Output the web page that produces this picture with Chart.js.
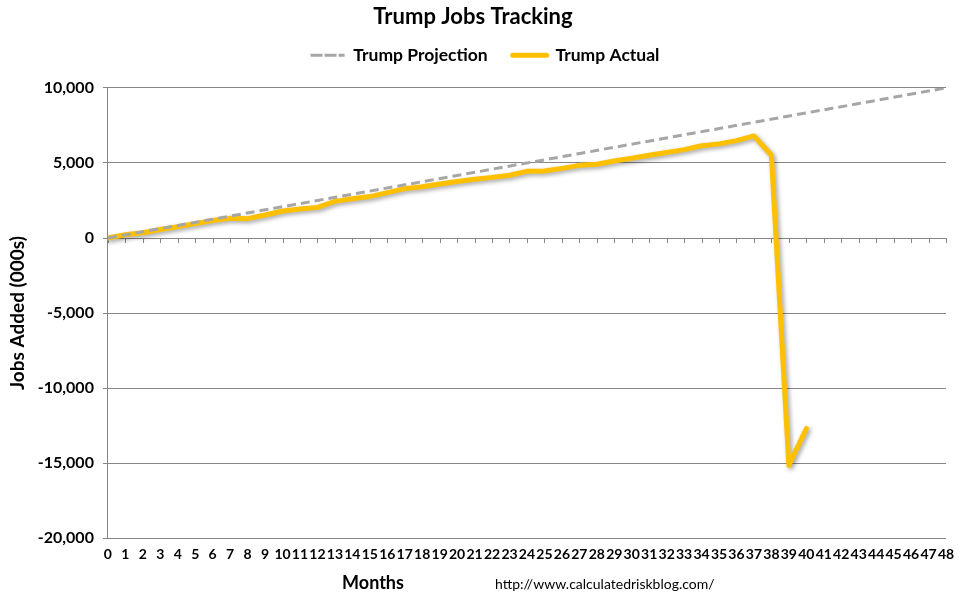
<!DOCTYPE html>
<html>
<head>
<meta charset="utf-8">
<script src="https://cdn.jsdelivr.net/npm/chart.js@4.4.1/dist/chart.umd.min.js"></script>
<style>
  html, body { margin: 0; padding: 0; background: #fff; }
  #wrap { width: 961px; height: 600px; }
</style>
</head>
<body>
<div id="wrap"><canvas id="chart"></canvas></div>
<script>
// months 0..40 of actual jobs added (000s)
const actualMonths = [0, 1, 2, 3, 4, 5, 6, 7, 8, 9, 10, 11, 12, 13, 14, 15, 16, 17, 18, 19, 20,
                      21, 22, 23, 24, 25, 26, 27, 28, 29, 30, 31, 32, 33, 34, 35, 36, 37, 38, 39, 40];
const actualValues = [0, 220, 350, 570, 760, 960, 1160, 1310, 1290, 1530, 1800, 1930, 2040, 2440,
                      2620, 2760, 3020, 3290, 3420, 3600, 3760, 3910, 4040, 4180, 4440, 4460, 4640,
                      4840, 4910, 5130, 5310, 5510, 5690, 5890, 6150, 6270, 6490, 6800, 5510,
                      -15150, -12690];
// projection: straight line from 0 to 10,000 over 48 months
const projMonths = [0, 48];
const projValues = [0, 10000];

const yTicks = [-20000, -15000, -10000, -5000, 0, 5000, 10000];

const FONT = 'Lato, "Open Sans", sans-serif';
const gridColor = '#868686';

const toPoints = (xs, ys) => xs.map((x, i) => ({ x, y: ys[i] }));

// Excel-like drop shadow under the actual series
const shadowPlugin = {
  id: 'shadow',
  beforeDatasetDraw(chart, args) {
    if (args.index !== 1) return;
    const ctx = chart.ctx;
    ctx.save();
    ctx.shadowColor = 'rgba(0,0,0,0.35)';
    ctx.shadowBlur = 4;
    ctx.shadowOffsetX = 2;
    ctx.shadowOffsetY = 2;
  },
  afterDatasetDraw(chart, args) {
    if (args.index !== 1) return;
    chart.ctx.restore();
  },
};

// extra room under the legend so the plot starts lower,
// and centre the legend on the page rather than on the padded area
const legendSpacer = {
  id: 'legendSpacer',
  afterInit(chart) {
    const fit = chart.legend.fit;
    chart.legend.fit = function () { fit.call(this); this.height += 14; };
  },
  afterLayout(chart) {
    chart.legend.left += 12;
    chart.legend.right += 12;
  },
};

// x axis crosses at 0: draw its line and tick marks there, plus footer texts
const extrasPlugin = {
  id: 'extras',
  beforeDatasetsDraw(chart) {
    const { ctx, scales: { x, y } } = chart;
    const y0 = y.getPixelForValue(0);
    ctx.save();
    ctx.strokeStyle = gridColor;
    ctx.lineWidth = 1;
    ctx.beginPath();
    ctx.moveTo(x.left, y0 + 0.5);
    ctx.lineTo(x.right, y0 + 0.5);
    x.ticks.forEach(t => {
      const px = Math.round(x.getPixelForValue(t.value)) + 0.5;
      ctx.moveTo(px, y0);
      ctx.lineTo(px, y0 + 5);
    });
    ctx.stroke();
    ctx.restore();
  },
  afterDraw(chart) {
    const ctx = chart.ctx;
    ctx.save();
    ctx.fillStyle = '#000';
    ctx.textBaseline = 'middle';
    ctx.textAlign = 'center';
    ctx.font = `bold 18px ${FONT}`;
    ctx.fillText('Months', 373, 583);
    ctx.textAlign = 'left';
    ctx.font = `14px ${FONT}`;
    ctx.fillText('http://www.calculatedriskblog.com/', 495, 584);
    ctx.restore();
  },
};

new Chart(document.getElementById('chart'), {
  type: 'line',
  data: {
    datasets: [
      {
        label: 'Trump Projection',
        data: toPoints(projMonths, projValues),
        borderColor: '#A6A6A6',
        backgroundColor: '#A6A6A6',
        borderWidth: 3,
        borderDash: [9, 5],
        pointRadius: 0,
        tension: 0,
      },
      {
        label: 'Trump Actual',
        data: toPoints(actualMonths, actualValues),
        borderColor: '#FFC000',
        backgroundColor: '#FFC000',
        borderWidth: 5,
        borderJoinStyle: 'round',
        borderCapStyle: 'round',
        pointRadius: 0,
        tension: 0,
      },
    ],
  },
  options: {
    responsive: true,
    maintainAspectRatio: false,
    animation: false,
    layout: { padding: { left: 0, right: 15, top: 0, bottom: 37 } },
    scales: {
      x: {
        type: 'linear',
        min: 0,
        max: 48,
        grid: { display: false },
        border: { display: false },
        ticks: {
          stepSize: 1,
          autoSkip: false,
          maxRotation: 0,
          padding: 0,
          color: '#000',
          font: { family: FONT, size: 14, weight: 'bold' },
        },
      },
      y: {
        min: -20000,
        max: 10000,
        afterBuildTicks: axis => { axis.ticks = yTicks.map(v => ({ value: v })); },
        grid: { color: gridColor, tickLength: 5 },
        border: { color: gridColor },
        ticks: {
          color: '#000',
          padding: 9,
          font: { family: FONT, size: 16, weight: 'bold' },
          callback: v => v.toLocaleString('en-US'),
        },
        title: {
          display: true,
          text: 'Jobs Added (000s)',
          color: '#000',
          padding: { top: 6, bottom: 0 },
          font: { family: FONT, size: 19, weight: 'bold' },
        },
      },
    },
    plugins: {
      title: {
        display: true,
        text: 'Trump Jobs Tracking',
        color: '#000',
        padding: { top: 4, bottom: -9 },
        font: { family: FONT, size: 22, weight: 'bold' },
      },
      legend: {
        position: 'top',
        labels: {
          color: '#000',
          boxWidth: 34,
          boxHeight: 0,
          padding: 25,
          font: { family: FONT, size: 17.5, weight: 'bold' },
        },
      },
      tooltip: { enabled: false },
    },
  },
  plugins: [shadowPlugin, legendSpacer, extrasPlugin],
});
</script>
</body>
</html>
